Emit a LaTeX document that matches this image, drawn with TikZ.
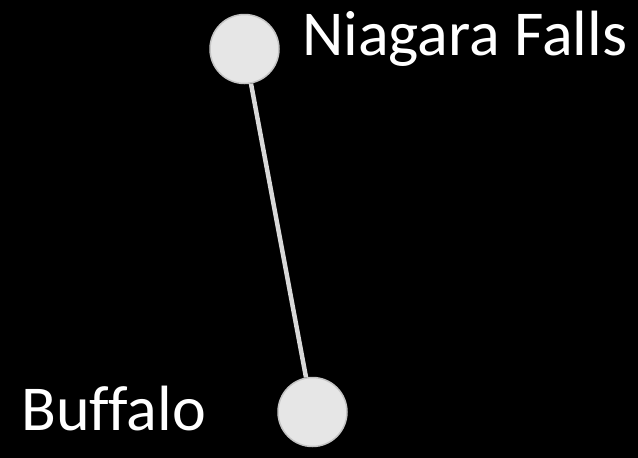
\documentclass[tikz,border=0pt]{standalone}
\usepackage{fontspec}
\setmainfont[Ligatures=NoCommon]{Carlito}
\usetikzlibrary{positioning}
\definecolor{citylight}{HTML}{E6E6E6}
\definecolor{cityedge}{HTML}{C4C4C4}
\definecolor{roadgray}{HTML}{D9D9D9}

\begin{document}
\begin{tikzpicture}[x=1pt,y=-1pt,
  city/.style={circle, fill=citylight, draw=cityedge, line width=1.5pt, minimum size=69pt, inner sep=0pt},
  citylabel/.style={text=white, font=\fontsize{64}{70}\selectfont, inner sep=0pt}]
%fond noir
\fill[black] (0,0) rectangle (638,458);
\useasboundingbox (0,0) rectangle (638,458);

\node[city] (niagara) at (244.5,49) {};
\node[city] (buffalo) at (312.5,412) {};
\draw[roadgray, line width=4.5pt] (niagara) -- (buffalo);

\node[citylabel, anchor=base west] (niagaralbl) at (302,55) {Niagara Falls};
\node[citylabel, anchor=base west] (buffalolbl) at (21,430) {Buffalo};
\end{tikzpicture}
\end{document}
